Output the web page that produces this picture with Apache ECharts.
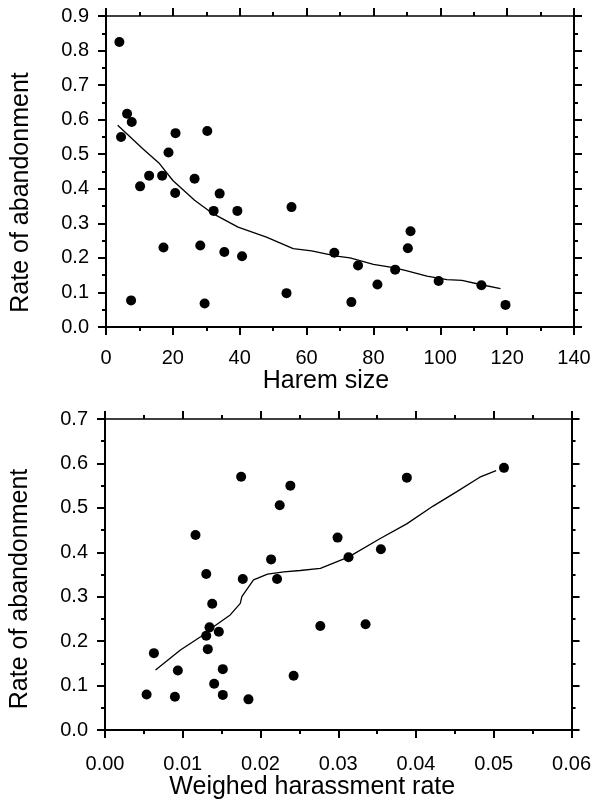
<!DOCTYPE html>
<html>
<head>
<meta charset="utf-8">
<script src="https://cdn.jsdelivr.net/npm/echarts@6/dist/echarts.min.js"></script>
<style>
html,body{margin:0;padding:0;background:#fff;}
#c{width:594px;height:801px;}
</style>
</head>
<body>
<div id="c"></div>
<script>
// ---- Top panel: harem size vs rate of abandonment ----
var haremX = [4.0, 6.3, 7.7, 4.5, 20.8, 30.3, 18.7, 12.9, 16.8, 26.5, 10.2, 20.7, 34.0, 32.2, 39.3, 55.5, 17.2, 28.2, 35.4, 40.7, 7.5, 29.5, 54.0, 68.3, 75.4, 90.3, 91.1, 86.5, 81.2, 73.4, 99.5, 112.3, 119.5];
var haremY = [0.825, 0.617, 0.593, 0.550, 0.561, 0.567, 0.505, 0.438, 0.438, 0.429, 0.407, 0.388, 0.386, 0.336, 0.336, 0.347, 0.230, 0.236, 0.217, 0.205, 0.077, 0.068, 0.098, 0.215, 0.178, 0.228, 0.277, 0.166, 0.123, 0.072, 0.133, 0.121, 0.064];
var haremFitX = [3.5, 11, 16, 20, 26.5, 32, 39.5, 48, 56, 61.5, 69, 73, 80, 86, 89.5, 96, 102, 106.5, 112, 118];
var haremFitY = [0.584, 0.516, 0.473, 0.424, 0.367, 0.328, 0.289, 0.260, 0.227, 0.220, 0.205, 0.200, 0.181, 0.172, 0.164, 0.147, 0.137, 0.135, 0.123, 0.111];
var haremXTicks = [0, 20, 40, 60, 80, 100, 120, 140];
var rateTopTicks = [0.0, 0.1, 0.2, 0.3, 0.4, 0.5, 0.6, 0.7, 0.8, 0.9];

// ---- Bottom panel: weighed harassment rate vs rate of abandonment ----
var harassX = [0.01751, 0.02384, 0.02247, 0.01164, 0.02136, 0.01302, 0.01772, 0.02213, 0.03882, 0.05131, 0.02991, 0.03132, 0.03548, 0.01379, 0.01344, 0.01464, 0.01302, 0.01322, 0.00629, 0.00937, 0.01515, 0.01404, 0.00535, 0.00899, 0.01515, 0.01845, 0.02426, 0.02769, 0.03351];
var harassY = [0.570, 0.550, 0.506, 0.439, 0.384, 0.351, 0.340, 0.340, 0.568, 0.590, 0.433, 0.389, 0.407, 0.284, 0.231, 0.221, 0.212, 0.182, 0.173, 0.134, 0.137, 0.104, 0.080, 0.075, 0.079, 0.069, 0.122, 0.234, 0.238];
var harassFitX = [0.0065, 0.0097, 0.0123, 0.0140, 0.0161, 0.0174, 0.0176, 0.0191, 0.0209, 0.0230, 0.0251, 0.0277, 0.0313, 0.0354, 0.0388, 0.0422, 0.0452, 0.0482, 0.0503];
var harassFitY = [0.135, 0.180, 0.210, 0.233, 0.259, 0.285, 0.300, 0.338, 0.351, 0.356, 0.359, 0.364, 0.389, 0.431, 0.464, 0.504, 0.536, 0.569, 0.584];
var harassXTicks = [0.00, 0.01, 0.02, 0.03, 0.04, 0.05, 0.06];
var rateBottomTicks = [0.0, 0.1, 0.2, 0.3, 0.4, 0.5, 0.6, 0.7];

var yTitle = 'Rate of abandonment';
var xTitleTop = 'Harem size';
var xTitleBottom = 'Weighed harassment rate';

function zip(a, b) { return a.map(function (v, i) { return [v, b[i]]; }); }
function step(t) { return t[1] - t[0]; }

var FONT = 'Liberation Sans';
var black = '#000';

function axisBase(min, max, interval, decimals, showLabel, lineWidth, labelMargin) {
  return {
    type: 'value', min: min, max: max, interval: interval,
    axisLine: { show: true, onZero: false, lineStyle: { color: black, width: lineWidth } },
    axisTick: { show: true, length: 8, lineStyle: { color: black, width: 2 } },
    minorTick: { show: true, splitNumber: 2, length: 4, lineStyle: { color: black, width: 2 } },
    splitLine: { show: false },
    axisLabel: {
      show: showLabel, color: black, fontFamily: FONT, fontSize: 20, margin: labelMargin,
      formatter: function (v) { return v.toFixed(decimals); }
    }
  };
}

var xTop = haremXTicks, yTop = rateTopTicks, xBot = harassXTicks, yBot = rateBottomTicks;

var xAxes = [
  Object.assign(axisBase(xTop[0], xTop[xTop.length - 1], step(xTop), 0, true, 2, 21), {
    gridIndex: 0, position: 'bottom', name: xTitleTop, nameLocation: 'middle', nameGap: 41,
    nameTextStyle: { color: black, fontFamily: FONT, fontSize: 25, padding: [0, 28, 0, 0] }
  }),
  Object.assign(axisBase(xTop[0], xTop[xTop.length - 1], step(xTop), 0, false, 1.5, 8), { gridIndex: 0, position: 'top' }),
  Object.assign(axisBase(xBot[0], xBot[xBot.length - 1], step(xBot), 2, true, 2, 24), {
    gridIndex: 1, position: 'bottom', name: xTitleBottom, nameLocation: 'middle', nameGap: 45,
    nameTextStyle: { color: black, fontFamily: FONT, fontSize: 25, padding: [0, 52, 0, 0] }
  }),
  Object.assign(axisBase(xBot[0], xBot[xBot.length - 1], step(xBot), 2, false, 1.5, 8), { gridIndex: 1, position: 'top' })
];
var yAxes = [
  Object.assign(axisBase(yTop[0], yTop[yTop.length - 1], step(yTop), 1, true, 2, 17), {
    gridIndex: 0, position: 'left', name: yTitle, nameLocation: 'middle', nameGap: 72,
    nameTextStyle: { color: black, fontFamily: FONT, fontSize: 25, padding: [0, 42, 0, 0] }
  }),
  Object.assign(axisBase(yTop[0], yTop[yTop.length - 1], step(yTop), 1, false, 2, 8), { gridIndex: 0, position: 'right' }),
  Object.assign(axisBase(yBot[0], yBot[yBot.length - 1], step(yBot), 1, true, 2, 17), {
    gridIndex: 1, position: 'left', name: yTitle, nameLocation: 'middle', nameGap: 72,
    nameTextStyle: { color: black, fontFamily: FONT, fontSize: 25, padding: [0, 29, 0, 0] }
  }),
  Object.assign(axisBase(yBot[0], yBot[yBot.length - 1], step(yBot), 1, false, 2, 8), { gridIndex: 1, position: 'right' })
];

var chart = echarts.init(document.getElementById('c'), null, { renderer: 'canvas' });
chart.setOption({
  animation: false,
  backgroundColor: '#fff',
  grid: [
    { left: 106, right: 20, top: 16, height: 311 },
    { left: 104.5, right: 22, top: 419, height: 311 }
  ],
  xAxis: xAxes,
  yAxis: yAxes,
  series: [
    { type: 'scatter', xAxisIndex: 0, yAxisIndex: 0, data: zip(haremX, haremY), symbol: 'circle', symbolSize: 10, itemStyle: { color: black, opacity: 1 } },
    { type: 'line', xAxisIndex: 0, yAxisIndex: 0, data: zip(haremFitX, haremFitY), showSymbol: false, lineStyle: { color: black, width: 1.3 } },
    { type: 'scatter', xAxisIndex: 2, yAxisIndex: 2, data: zip(harassX, harassY), symbol: 'circle', symbolSize: 10, itemStyle: { color: black, opacity: 1 } },
    { type: 'line', xAxisIndex: 2, yAxisIndex: 2, data: zip(harassFitX, harassFitY), showSymbol: false, lineStyle: { color: black, width: 1.3 } }
  ]
});
</script>
</body>
</html>
